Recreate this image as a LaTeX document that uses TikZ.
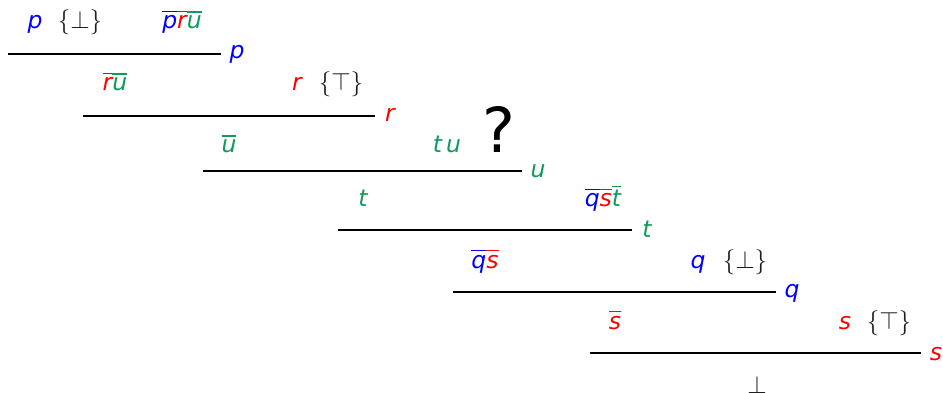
\RequirePackage{fix-cm}
\documentclass[tikz,border=0pt]{standalone}
\usepackage{fontspec}
\setmainfont{DejaVu Sans}
\definecolor{cb}{RGB}{0,0,255}
\definecolor{cr}{RGB}{255,0,0}
\definecolor{cg}{RGB}{15,155,90}
\definecolor{cm}{RGB}{30,30,30}
\newcommand{\lt}[2]{\textcolor{#1}{\itshape #2}}
\newcommand{\olt}[2]{\textcolor{#1}{\vbox{\hrule height 1.3pt\kern 3.4pt\hbox{\itshape #2}}}}
\tikzset{
  lbl/.style={anchor=base, inner sep=0pt, font=\fontsize{23.5}{27}\selectfont},
  mth/.style={anchor=base, inner sep=0pt, text=cm, font=\fontsize{25}{29}\selectfont},
  rulel/.style={line width=1.3pt, black},
}
\begin{document}
\begin{tikzpicture}[x=1pt,y=-1pt]
\useasboundingbox (0,0) rectangle (943,393);
% rules
\coordinate (a1) at (8,54);   \coordinate (b1) at (221,54);
\coordinate (a2) at (83,116); \coordinate (b2) at (375,116);
\coordinate (a3) at (203,171);\coordinate (b3) at (522,171);
\coordinate (a4) at (338,230);\coordinate (b4) at (632,230);
\coordinate (a5) at (453,292);\coordinate (b5) at (776,292);
\coordinate (a6) at (590,353);\coordinate (b6) at (921,353);
\draw[rulel] (a1) -- (b1);
\draw[rulel] (a2) -- (b2);
\draw[rulel] (a3) -- (b3);
\draw[rulel] (a4) -- (b4);
\draw[rulel] (a5) -- (b5);
\draw[rulel] (a6) -- (b6);
% side labels
\node[lbl] (s1) at (237,59) {\lt{cb}{p}};
\node[lbl] (s2) at (390,122) {\lt{cr}{r}};
\node[lbl] (s3) at (538,178) {\lt{cg}{u}};
\node[lbl] (s4) at (647,237) {\lt{cg}{t}};
\node[lbl] (s5) at (792,297) {\lt{cb}{q}};
\node[lbl] (s6) at (936,360) {\lt{cr}{s}};
% row 1
\node[lbl] (r1a) at (35,29) {\lt{cb}{p}};
\node[mth] (r1b) at (80,29) {$\{\bot\}$};
\node[lbl] (r1c) at (182,29) {\olt{cb}{p}\olt{cr}{r}\olt{cg}{u}};
% row 2
\node[lbl] (r2a) at (115,91) {\olt{cr}{r}\olt{cg}{u}};
\node[lbl] (r2b) at (297,91) {\lt{cr}{r}};
\node[mth] (r2c) at (341,91) {$\{\top\}$};
% row 3
\node[lbl] (r3a) at (229,153) {\olt{cg}{u}};
\node[lbl] (r3b) at (447,153) {\lt{cg}{t}\,\lt{cg}{u}};
\node[anchor=base, inner sep=0pt, font=\fontsize{62}{70}\selectfont] (r3c) at (499,153) {?};
% row 4
\node[lbl] (r4a) at (363,207) {\lt{cg}{t}};
\node[lbl] (r4b) at (603,207) {\olt{cb}{q}\olt{cr}{s}\olt{cg}{t}};
% row 5
\node[lbl] (r5a) at (485,268) {\olt{cb}{q}\olt{cr}{s}};
\node[lbl] (r5b) at (698,268) {\lt{cb}{q}};
\node[mth] (r5c) at (745,268) {$\{\bot\}$};
% row 6
\node[lbl] (r6a) at (615,329) {\olt{cr}{s}};
\node[lbl] (r6b) at (845,329) {\lt{cr}{s}};
\node[mth] (r6c) at (889,329) {$\{\top\}$};
% bottom
\node[mth] (bot) at (757,393) {$\bot$};
\end{tikzpicture}
\end{document}
